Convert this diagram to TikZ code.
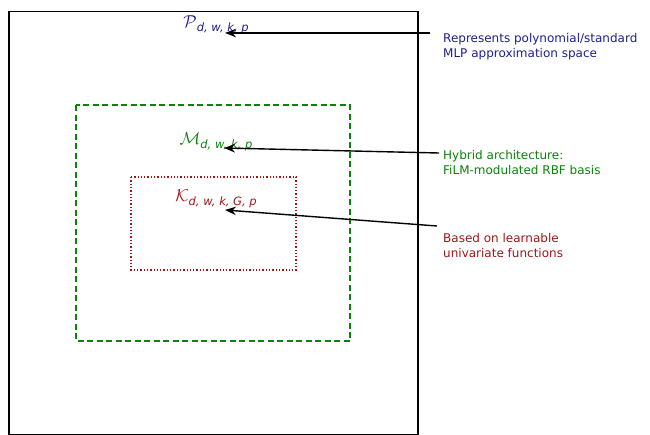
\documentclass[tikz,border=0pt]{standalone}
\usepackage{fontspec}
\setmainfont{DejaVu Sans}
\setsansfont{DejaVu Sans}
\usetikzlibrary{arrows.meta}
\definecolor{cblue}{rgb}{0.12,0.12,0.55}
\definecolor{cgreen}{rgb}{0.05,0.50,0.05}
\definecolor{cred}{rgb}{0.60,0.10,0.10}
\newcommand{\sub}[1]{\textit{\fontsize{11.5}{11.5}\selectfont #1}}
\begin{document}
\begin{tikzpicture}[x=1pt,y=-1pt,
  note/.style={anchor=west,align=left,font=\fontsize{12}{15}\selectfont,inner sep=0pt},
  lbl/.style={inner sep=0pt,font=\fontsize{17}{17}\selectfont},
  arr/.style={-{Stealth[length=11pt,width=8.5pt]},line width=1.4pt,black}]
\useasboundingbox (0,0) rectangle (650,434);
\clip (0,0) rectangle (650,434);
\draw[line width=1.6pt] (9,11.5) rectangle (418,434.6);
\draw[cgreen,line width=1.8pt,dash pattern=on 6pt off 3.5pt] (76,105) rectangle (350,341);
\draw[cred,line width=1.4pt,dash pattern=on 1.3pt off 2pt] (131,177) rectangle (296,270);
\node[lbl,text=cblue] (P) at (216,25) {$\mathcal{P}$\raisebox{-3.5pt}{\sub{d, w, k, p}}};
\node[lbl,text=cgreen] (M) at (216,142) {$\mathcal{M}$\raisebox{-3.5pt}{\sub{d, w, k, p}}};
\node[lbl,text=cred] (K) at (216,199) {$\mathcal{K}$\raisebox{-3.5pt}{\sub{d, w, k, G, p}}};
\node[note,text=cblue] (nP) at (443,47) {Represents polynomial/standard\\MLP approximation space};
\node[note,text=cgreen] (nM) at (443,163) {Hybrid architecture:\\FiLM-modulated RBF basis};
\node[note,text=cred] (nK) at (443,246) {Based on learnable\\univariate functions};
\coordinate (sP) at (430,33);
\coordinate (tP) at (225,33);
\coordinate (sM) at (439,153);
\coordinate (tM) at (224,148);
\coordinate (sK) at (437,226);
\coordinate (tK) at (225,210);
\draw[arr] (sP) -- (tP);
\draw[arr] (sM) -- (tM);
\draw[arr] (sK) -- (tK);
\end{tikzpicture}
\end{document}
